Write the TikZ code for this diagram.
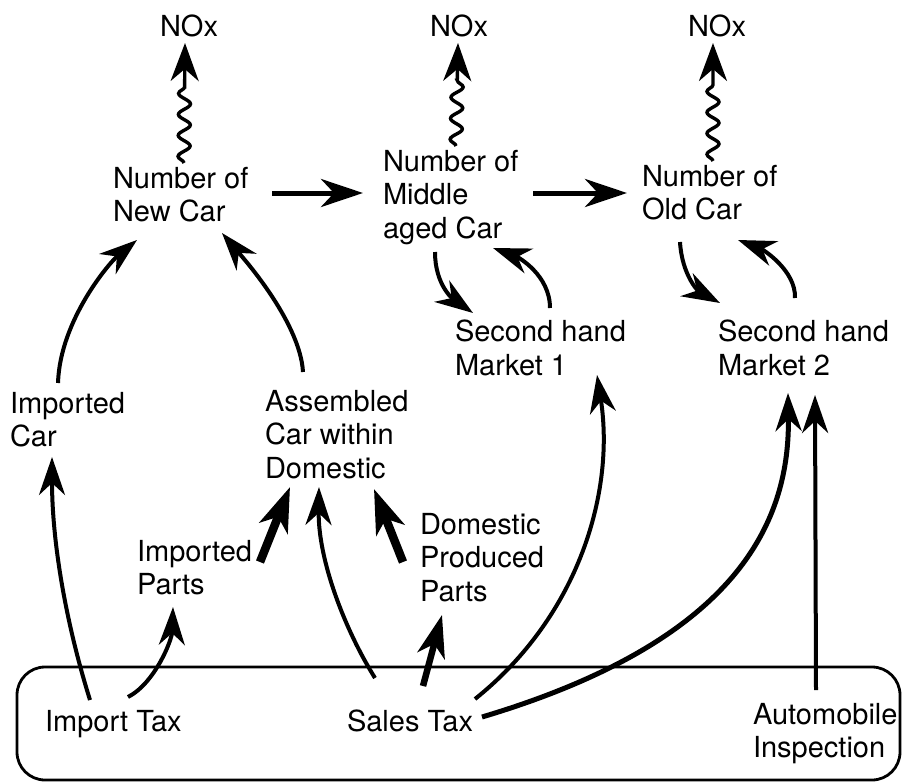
\documentclass[tikz,border=0pt]{standalone}
\usepackage{fontspec}
\setmainfont{TeX Gyre Heros}
\usetikzlibrary{arrows.meta,calc,decorations.pathmorphing}
\begin{document}
\begin{tikzpicture}[x=1pt,y=-1pt,
  lbl/.style={anchor=north west,inner sep=0pt,outer sep=0pt,align=left,
    font=\fontsize{29}{33.5}\selectfont},
  tipbig/.style={-{Stealth[length=38pt,width=28pt,inset=12pt]}},
  tipmid/.style={-{Stealth[length=38pt,width=26pt,inset=12pt]}},
  conn/.style={tipmid,line width=4pt},
  heavy/.style={-{Stealth[length=44pt,width=30pt,inset=12pt]},line width=8.5pt},
  wave/.style={tipbig,line width=3.4pt,decorate,
    decoration={snake,amplitude=6pt,segment length=21pt,post length=34pt}},
  flow/.style={-{Stealth[length=42pt,width=28pt,inset=13pt]},line width=5pt}]
\useasboundingbox (0,0) rectangle (905,782);
% nodes
\node[lbl] (nox1) at (160,15) {NOx};
\node[lbl] (nox2) at (430,15) {NOx};
\node[lbl] (nox3) at (688,15) {NOx};
\node[lbl] (newc) at (113,167) {Number of\\New Car};
\node[lbl] (mid) at (383,150) {Number of\\Middle\\aged Car};
\node[lbl] (old) at (642,165) {Number of\\Old Car};
\node[lbl] (sh1) at (455,320) {Second hand\\Market 1};
\node[lbl] (sh2) at (718,320) {Second hand\\Market 2};
\node[lbl] (impc) at (10,392) {Imported\\Car};
\node[lbl] (asm) at (265,390) {Assembled\\Car within\\Domestic};
\node[lbl] (impp) at (137,540) {Imported\\Parts};
\node[lbl] (dpp) at (420,513) {Domestic\\Produced\\Parts};
\node[lbl] (imptax) at (45,710) {Import Tax};
\node[lbl] (sales) at (347,710) {Sales Tax};
\node[lbl] (auto) at (753,703) {Automobile\\Inspection};
% policy frame
\draw[line width=2.8pt,rounded corners=28pt] (17,667) rectangle (900,780);
% emissions
\draw[wave] ($(newc.north west)+(71,-4)$) -- ($(nox1.north west)+(25,28)$);
\draw[wave] ($(mid.north west)+(73,-4)$) -- ($(nox2.north west)+(28,28)$);
\draw[wave] ($(old.north west)+(71,-4)$) -- ($(nox3.north west)+(25,28)$);
% ageing flow
\draw[flow] ($(newc.north west)+(159,26)$) -- ($(mid.north west)+(-20,43)$);
\draw[flow] ($(mid.north west)+(150,43)$) -- ($(old.north west)+(-15,28)$);
% second hand markets
\draw[conn] ($(mid.north west)+(52,102)$) .. controls +(0,33) and +(-20,-14) .. ($(sh1.north west)+(18,-7)$);
\draw[conn] ($(sh1.north west)+(95,-12)$) .. controls +(0,-33) and +(25,9) .. ($(mid.north west)+(110,98)$);
\draw[conn] ($(old.north west)+(38,77)$) .. controls +(2,33) and +(-22,-12) .. ($(sh2.north west)+(2,-17)$);
\draw[conn] ($(sh2.north west)+(77,-22)$) .. controls +(1,-28) and +(24,9) .. ($(old.north west)+(96,75)$);
% new car sources
\draw[conn] ($(impc.north west)+(48,-9)$) .. controls +(2,-63) and +(-27,22) .. ($(newc.north west)+(24,73)$);
\draw[conn] ($(asm.north west)+(38,-18)$) .. controls +(-3,-52) and +(16,19) .. ($(newc.north west)+(109,66)$);
% taxes
\draw[conn] ($(imptax.north west)+(45,-10)$) .. controls +(-25,-80) and +(0,83) .. ($(impc.north west)+(42,65)$);
\draw[conn] ($(imptax.north west)+(83,-13)$) .. controls +(27,-14) and +(-1,33) .. ($(impp.north west)+(36,67)$);
\draw[conn] ($(sales.north west)+(28,-32)$) .. controls +(-30,-48) and +(-1,73) .. ($(asm.north west)+(54,97)$);
\draw[-{Stealth[length=42pt,width=28pt,inset=12pt]},line width=6.5pt] ($(sales.north west)+(76,-24)$) -- ($(dpp.north west)+(22,102)$);
\draw[heavy] ($(impp.north west)+(123,22)$) -- ($(asm.north west)+(25,97)$);
\draw[heavy] ($(dpp.north west)+(-17,49)$) -- ($(asm.north west)+(109,99)$);
\draw[conn] ($(sales.north west)+(128,-11)$) .. controls +(105,-84) and +(18,115) .. ($(sh1.north west)+(142,55)$);
\draw[conn,line width=5pt] ($(sales.north west)+(135,7)$) .. controls +(258,-77) and +(2,127) .. ($(sh2.north west)+(70,73)$);
\draw[conn] ($(auto.north west)+(63,-13)$) -- ($(sh2.north west)+(97,75)$);
\end{tikzpicture}
\end{document}
